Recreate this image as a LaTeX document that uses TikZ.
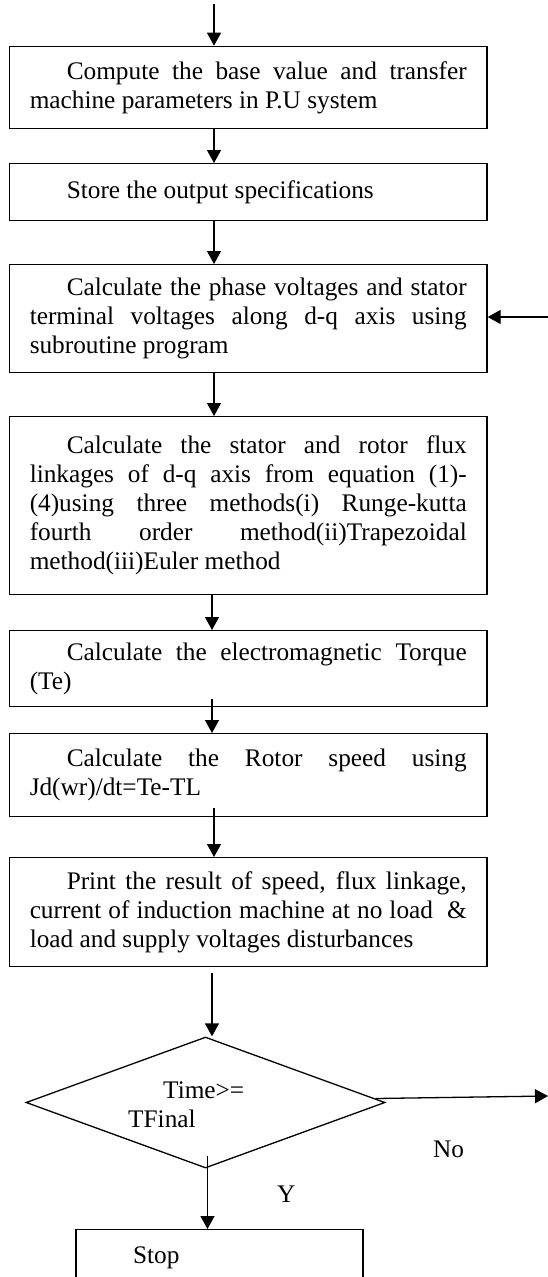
\documentclass[tikz,border=0pt]{standalone}
\usepackage{fontspec}
\setmainfont{Liberation Serif}
\usetikzlibrary{arrows.meta,shapes.geometric}
\newcommand{\boxfont}{\fontsize{25.3}{29}\selectfont}
\newcommand{\firstline}{\tolerance=10000 \hyphenpenalty=10000 \exhyphenpenalty=10000 \relax\hspace*{37pt}}
\begin{document}
\begin{tikzpicture}[x=1pt,y=-1pt,
  box/.style={draw, line width=1.3pt, anchor=north, text width=437pt, inner xsep=20.25pt, inner ysep=0pt, align=justify,
    font=\boxfont},
  arr/.style={line width=1.3pt, -{Triangle[length=13pt,width=14pt]}},
  lbl/.style={font=\boxfont, inner sep=0pt, anchor=base west}]
\useasboundingbox (0,0) rectangle (548,1277);

\node[box, minimum height=82.3pt] (b1) at (248.25,45.7)
  {\firstline Compute the base value and transfer\linebreak machine parameters in P.U system};
\node[box, minimum height=57pt] (b2) at (248.25,163)
  {\firstline Store the output specifications};
\node[box, minimum height=108pt] (b3) at (248.25,264)
  {\firstline Calculate the phase voltages and stator\linebreak terminal voltages along d-q axis using\linebreak subroutine program};
\node[box, minimum height=178pt] (b4) at (248.25,416)
  {\firstline Calculate the stator and rotor flux\linebreak linkages of d-q axis from equation (1)-\linebreak (4)using three methods(i) Runge-kutta\linebreak fourth order method(ii)Trapezoidal\linebreak method(iii)Euler method};
\node[box, minimum height=76pt] (b5) at (248.25,630)
  {\firstline Calculate the electromagnetic Torque\linebreak (Te)};
\node[box, minimum height=83pt] (b6) at (248.25,733)
  {\firstline Calculate the Rotor speed using\linebreak Jd(wr)/dt=Te-TL};
\node[box, minimum height=109pt] (b7) at (248.25,857)
  {\firstline Print the result of speed, flux linkage,\linebreak current of induction machine at no load \ \&\linebreak load and supply voltages disturbances};

\node[draw, diamond, line width=1.3pt, minimum width=359pt, minimum height=131pt, inner sep=0pt] (d) at (205.5,1102.5) {};
\node[lbl, align=left, anchor=north west] (dt) at (128,1081.5) {\hspace*{35pt}Time>=\\TFinal};

\node[draw, line width=1.3pt, anchor=north, text width=173pt, inner xsep=57pt, inner ysep=17.5pt,
  text height=16.5pt, text depth=50pt, align=left, font=\boxfont] (stop) at (219.5,1229) {Stop};

\node[lbl] (no) at (433,1157) {No};
\node[lbl] (y) at (277,1202) {Y};

\coordinate (start) at (214,4);
\draw[arr] (start) -- (start |- b1.north);
\draw[arr] ([xshift=-34.25pt]b1.south) -- ([xshift=-34.25pt]b2.north);
\draw[arr] ([xshift=-34.25pt]b2.south) -- ([xshift=-34.25pt]b3.north);
\draw[arr] ([xshift=-34.25pt]b3.south) -- ([xshift=-34.25pt]b4.north);
\draw[arr] ([xshift=-36.25pt]b4.south) -- ([xshift=-36.25pt]b5.north);
\draw[arr] ([xshift=-36.25pt,yshift=8pt]b5.south) -- ([xshift=-36.25pt]b6.north);
\draw[arr] ([xshift=-34.25pt,yshift=9pt]b6.south) -- ([xshift=-34.25pt]b7.north);
\draw[arr] ([xshift=-36.25pt,yshift=-6pt]b7.south) -- ([xshift=-36.25pt]b7.south |- d.north);
\draw[arr] ([xshift=2pt,yshift=13pt]d.south) -- ([xshift=2pt]d.south |- stop.north);
\coordinate (fb) at (548,317);
\draw[arr] (fb) -- (fb -| b3.east);
\coordinate (noend) at (548,1096);
\draw[arr] ([xshift=-10pt,yshift=4pt]d.east) -- (noend);
\end{tikzpicture}
\end{document}
